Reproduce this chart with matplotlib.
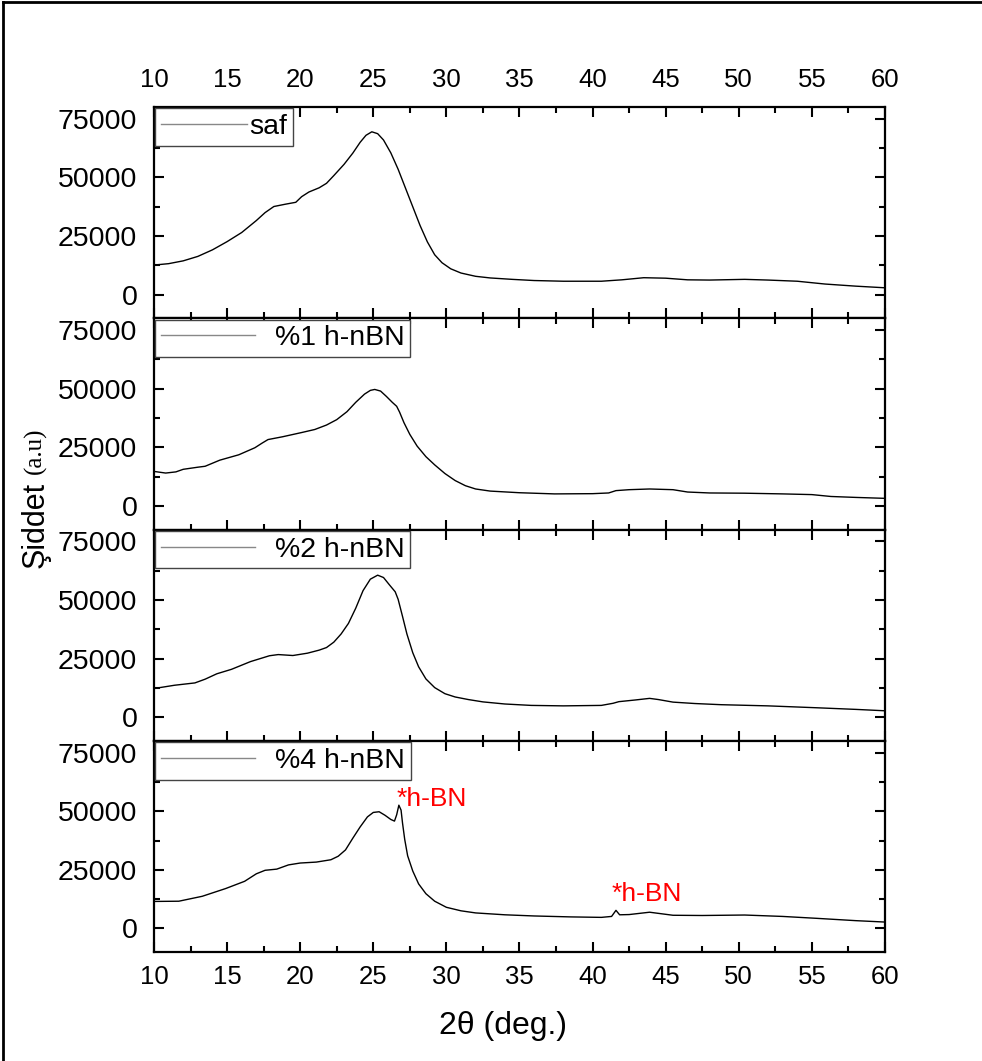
import matplotlib
matplotlib.use("Agg")
import matplotlib.pyplot as plt
from matplotlib.ticker import MultipleLocator
from matplotlib.lines import Line2D

plt.rcParams['font.family'] = ['Liberation Sans', 'DejaVu Sans']

# XRD patterns: 2-theta (deg) and intensity (a.u.)
tt_saf = [10.0, 11.0, 12.0, 13.0, 14.0, 15.0, 16.0, 17.0, 17.6, 18.2, 19.0, 19.7,
          20.1, 20.6, 21.3, 21.8, 22.3, 23.0, 23.6, 24.1, 24.5, 24.9, 25.3, 25.7,
          26.2, 26.7, 27.2, 27.7, 28.2, 28.7, 29.2, 29.7, 30.3, 31.0, 32.0, 33.0,
          34.5, 36.0, 38.0, 40.6, 42.0, 43.5, 45.0, 46.5, 48.0, 50.4, 52.0, 54.0,
          55.9, 58.0, 60.0]
int_saf = [12600, 13200, 14400, 16300, 19100, 22600, 26500, 31600, 35000, 37600,
           38600, 39400, 41800, 43800, 45600, 47500, 50800, 55600, 60400, 65000,
           68000, 69500, 68700, 66000, 60500, 53500, 45500, 37500, 29500, 22500,
           17000, 13600, 11000, 9200, 7800, 7100, 6500, 6000, 5700, 5700, 6300,
           7200, 7000, 6300, 6200, 6500, 6200, 5700, 4500, 3600, 2900]

tt_1 = [10.0, 10.8, 11.5, 12.0, 13.0, 13.5, 14.5, 15.8, 16.9, 17.4, 17.8, 18.8,
        20.1, 21.0, 21.8, 22.5, 23.2, 23.8, 24.4, 24.8, 25.1, 25.5, 25.9, 26.3,
        26.6, 26.8, 27.1, 27.5, 28.0, 28.6, 29.2, 29.9, 30.6, 31.3, 32.0, 33.0,
        35.0, 37.4, 40.0, 41.1, 41.6, 42.5, 43.9, 45.5, 46.5, 48.0, 50.4, 53.0,
        55.0, 56.3, 58.0, 60.0]
int_1 = [14700, 14000, 14500, 15600, 16500, 16900, 19500, 21800, 24800, 26800,
         28300, 29500, 31300, 32600, 34500, 36800, 40200, 44200, 47700, 49300,
         49700, 49000, 46700, 44200, 42500, 40000, 35500, 30500, 25500, 21000,
         17500, 13800, 10800, 8600, 7200, 6300, 5600, 5100, 5200, 5500, 6500,
         6900, 7200, 6900, 5900, 5500, 5400, 5100, 4800, 4000, 3600, 3200]

tt_2 = [10.0, 11.4, 12.8, 13.5, 14.3, 15.3, 16.6, 17.9, 18.5, 19.5, 20.5, 21.3,
        21.8, 22.3, 22.8, 23.3, 23.8, 24.3, 24.8, 25.3, 25.7, 26.1, 26.5, 26.7,
        27.0, 27.3, 27.7, 28.1, 28.6, 29.2, 29.9, 30.6, 31.5, 32.5, 34.0, 35.8,
        38.0, 40.6, 41.4, 41.8, 42.9, 43.9, 44.5, 45.5, 47.0, 48.8, 52.0, 55.3,
        58.0, 60.0]
int_2 = [12200, 13600, 14600, 16200, 18500, 20400, 23700, 26200, 26700, 26300,
         27300, 28600, 29700, 32000, 35500, 40000, 46500, 54000, 58900, 60600,
         59600, 56500, 53500, 50300, 43000, 35500, 27500, 21500, 16300, 12600,
         10000, 8600, 7500, 6500, 5600, 5000, 4800, 5000, 5900, 6600, 7300,
         8000, 7500, 6400, 5800, 5300, 4800, 4000, 3300, 2700]

tt_4 = [10.0, 11.7, 13.3, 14.9, 16.2, 17.0, 17.6, 18.4, 19.2, 20.0, 21.1, 22.1,
        22.6, 23.1, 23.6, 24.1, 24.6, 25.0, 25.4, 25.8, 26.2, 26.45, 26.6, 26.75,
        26.9, 27.0, 27.15, 27.35, 27.7, 28.1, 28.6, 29.2, 30.0, 31.0, 32.0, 34.0,
        36.0, 38.5, 40.6, 41.3, 41.6, 41.85, 42.5, 43.9, 45.5, 47.5, 50.4, 53.0,
        55.3, 58.0, 60.0]
int_4 = [11500, 11600, 13700, 17000, 20100, 23300, 24800, 25300, 27100, 27900,
         28300, 29300, 30800, 33500, 38500, 43300, 47600, 49500, 49800, 48300,
         46500, 45800, 48500, 52600, 50500, 45000, 38000, 31000, 24500, 19000,
         14800, 11600, 9000, 7500, 6600, 5800, 5300, 4900, 4700, 5100, 7700,
         5800, 5900, 6900, 5600, 5500, 5700, 5100, 4300, 3300, 2700]

series = [(tt_saf, int_saf, 'saf'),
          (tt_1, int_1, '%1 h-nBN'),
          (tt_2, int_2, '%2 h-nBN'),
          (tt_4, int_4, '%4 h-nBN')]

peak_labels = [(26.6, 55300, '*h-BN'), (41.3, 14600, '*h-BN')]

fig = plt.figure(figsize=(9.82, 10.61), dpi=100)

left, width = 0.1568, 0.7444
bottom0, height = 0.1027, 0.19912

axes = []
for i, (tt, inten, name) in enumerate(series):
    b = bottom0 + height * (3 - i)
    ax = fig.add_axes([left, b, width, height])
    axes.append(ax)
    ax.plot(tt, inten, color='black', lw=1.0, label=name)
    ax.set_xlim(10, 60)
    ax.set_ylim(-10100, 80100)
    ax.xaxis.set_major_locator(MultipleLocator(5))
    ax.xaxis.set_minor_locator(MultipleLocator(2.5))
    ax.yaxis.set_minor_locator(MultipleLocator(12500))
    ax.set_yticks([0, 25000, 50000, 75000])
    ax.tick_params(which='both', direction='in', top=True, right=True, width=1.5)
    ax.tick_params(which='major', length=7.5)
    ax.tick_params(which='minor', length=4)
    ax.tick_params(axis='y', labelsize=20.5, pad=12)
    ax.tick_params(axis='x', labelsize=18.5)
    ax.tick_params(axis='x', labelbottom=(i == 3), labeltop=(i == 0))
    ax.tick_params(axis='x', pad=11 if i == 0 else 9)
    for sp in ax.spines.values():
        sp.set_linewidth(1.6)

    leg = ax.legend(loc='upper left', borderaxespad=0.05, fontsize=20.5,
                    frameon=True, fancybox=False, framealpha=1,
                    handlelength=3.0 if i == 0 else 3.3,
                    handletextpad=0.1 if i == 0 else 0.7,
                    borderpad=0.2, labelspacing=0)
    leg.get_frame().set_edgecolor('#444444')
    leg.get_frame().set_linewidth(1.0)
    for h in leg.get_lines():
        h.set_color('#888888')
        h.set_linewidth(1.0)

for x, y, txt in peak_labels:
    axes[3].text(x, y, txt, color='red', fontsize=19, ha='left', va='center')

# axis titles
fig.text(0.036, 1 - 568 / 1061, 'Şiddet', rotation=90, fontsize=22,
         ha='center', va='bottom')
fig.text(0.036, 1 - 474 / 1061, '(a.u)', rotation=90, fontsize=18,
         family='Liberation Serif', ha='center', va='bottom')
fig.text(503 / 982, 1 - 1026 / 1061, '2θ (deg.)', fontsize=23,
         ha='center', va='center')

# page frame
fig.add_artist(Line2D([0.0035, 0.0035], [0, 0.998], transform=fig.transFigure,
                      color='black', lw=2))
fig.add_artist(Line2D([0.0035, 1.0], [0.998, 0.998], transform=fig.transFigure,
                      color='black', lw=2))

fig.savefig('out.png', dpi=100)
